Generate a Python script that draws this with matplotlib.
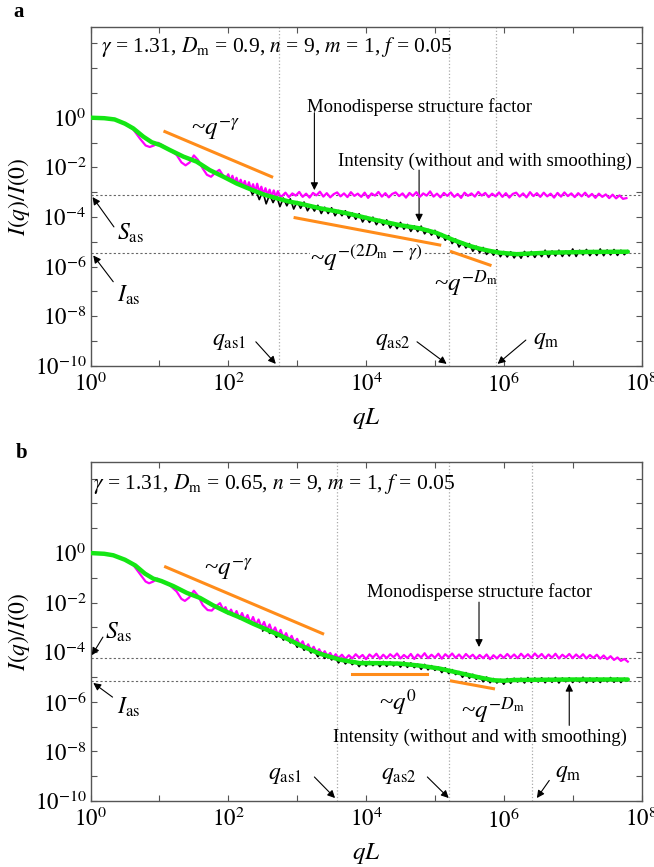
import numpy as np
import matplotlib
matplotlib.use("Agg")
import matplotlib.pyplot as plt
from matplotlib.ticker import FixedLocator, FuncFormatter

plt.rcParams["font.family"] = ["Liberation Serif", "DejaVu Serif"]
plt.rcParams["mathtext.fontset"] = "stix"

# ---------------------------------------------------------------- panel a
# all curves are given as log10(qL), log10(I/I0)
A_GREEN_LX = [0.0, 0.2, 0.35, 0.5, 0.62, 0.77, 0.89, 1.01, 1.15, 1.35, 1.54, 1.73,
              1.93, 2.12, 2.31, 2.51, 2.72, 2.90, 3.04, 3.33, 3.72, 4.10, 4.49,
              4.78, 5.02, 5.27, 5.51, 5.65, 5.80, 5.94, 6.19, 6.40, 6.62, 7.20, 7.80]
A_GREEN_LY = [0.0, -0.02, -0.07, -0.24, -0.43, -0.77, -0.99, -1.10, -1.30, -1.57,
              -1.77, -2.11, -2.38, -2.65, -2.87, -3.09, -3.26, -3.39, -3.46, -3.65,
              -3.85, -4.10, -4.33, -4.46, -4.64, -4.93, -5.17, -5.28, -5.37, -5.44,
              -5.50, -5.47, -5.44, -5.41, -5.40]

A_MAG_LX = [0.0, 0.2, 0.35, 0.5, 0.62, 0.72, 0.80, 0.86, 0.92, 0.98, 1.05, 1.15,
            1.25, 1.32, 1.38, 1.44, 1.50, 1.56, 1.63, 1.69, 1.75, 1.81, 1.87, 1.93,
            1.97, 2.00, 2.03, 2.06, 2.09, 2.12, 2.15, 2.18, 2.21, 2.24, 2.27, 2.30,
            2.33, 2.36, 2.39, 2.42, 2.45, 2.48, 2.51, 2.54, 2.57, 2.60, 2.63, 2.66,
            2.69, 2.72, 2.75]
A_MAG_LY = [0.0, -0.02, -0.07, -0.25, -0.47, -0.85, -1.12, -1.18, -1.12, -1.01,
            -1.12, -1.30, -1.50, -1.80, -1.92, -1.80, -1.52, -1.70, -2.05, -2.30,
            -2.38, -2.22, -2.10, -2.35, -2.42, -2.28, -2.55, -2.34, -2.62, -2.42,
            -2.70, -2.50, -2.75, -2.55, -2.86, -2.60, -2.90, -2.68, -2.98, -2.66,
            -3.02, -2.78, -3.10, -2.84, -3.12, -2.90, -3.18, -2.93, -3.20, -2.96,
            -3.15]
# monodisperse structure factor plateau, log10(qL) from 2.78 to 7.78
A_MAG_PLATEAU = [
    -3.16, -3.02, -3.20, -3.05, -3.14, -2.99, -3.19, -3.06, -3.22, -3.03,
    -3.13, -2.98, -3.18, -3.04, -3.21, -3.08, -3.01, -3.17, -3.05, -3.20,
    -3.00, -3.15, -3.06, -3.19, -3.02, -3.23, -3.05, -3.14, -2.99, -3.18,
    -3.04, -3.21, -3.07, -3.01, -3.16, -3.05, -3.22, -3.03, -3.15, -3.00,
    -3.19, -3.05, -3.14, -2.97, -3.18, -3.06, -3.21, -3.03, -3.15, -3.01,
    -3.19, -3.07, -3.23, -3.02, -3.15, -3.05, -3.18, -2.99, -3.14, -3.03,
    -3.20, -3.06, -3.17, -3.01, -3.19, -3.04, -3.22, -3.07, -3.02, -3.18,
    -3.05, -3.21, -3.00, -3.16, -3.04, -3.19, -3.02, -3.17, -3.06, -3.22,
    -3.03, -3.18, -3.01, -3.16, -3.05, -3.20, -3.04, -3.17, -3.02, -3.19,
    -3.07, -3.23, -3.06, -3.19, -3.09, -3.24, -3.10, -3.25, -3.13, -3.27,
    -3.24]
# raw intensity, log10(qL) from 2.30 to 7.80
A_BLACK = [
    -2.76, -3.09, -2.92, -3.30, -2.96, -3.47, -3.10, -3.42, -3.14, -3.58,
    -3.24, -3.55, -3.27, -3.68, -3.38, -3.65, -3.40, -3.75, -3.52, -3.76,
    -3.53, -3.86, -3.61, -3.86, -3.63, -3.95, -3.74, -3.95, -3.75, -4.05,
    -3.84, -4.09, -3.87, -4.20, -3.98, -4.22, -4.01, -4.31, -4.10, -4.33,
    -4.12, -4.44, -4.23, -4.47, -4.22, -4.49, -4.30, -4.58, -4.36, -4.59,
    -4.37, -4.68, -4.50, -4.73, -4.54, -4.86, -4.67, -4.94, -4.75, -5.07,
    -4.89, -5.21, -5.01, -5.25, -5.07, -5.38, -5.18, -5.43, -5.23, -5.51,
    -5.32, -5.54, -5.32, -5.60, -5.39, -5.61, -5.40, -5.65, -5.44, -5.66,
    -5.39, -5.60, -5.39, -5.63, -5.41, -5.60, -5.34, -5.63, -5.37, -5.57,
    -5.34, -5.59, -5.37, -5.57, -5.29, -5.59, -5.34, -5.53, -5.31, -5.56,
    -5.35, -5.55, -5.29, -5.56, -5.33, -5.53, -5.31, -5.55, -5.34, -5.52,
    -5.36]
A_SLOPES = [((1.08, -0.56), (2.63, -2.38)),
            ((2.97, -4.03), (5.07, -5.13)),
            ((5.24, -5.40), (5.80, -5.94))]
A_QMARKS = [2.73, 5.21, 5.89]       # q_as1, q_as2, q_m
A_S_AS, A_I_AS = -3.12, -5.45

# ---------------------------------------------------------------- panel b
B_GREEN_LX = [0.0, 0.2, 0.33, 0.5, 0.65, 0.79, 0.91, 1.03, 1.20, 1.40, 1.59, 1.78,
              1.98, 2.17, 2.36, 2.56, 2.75, 2.90, 3.04, 3.33, 3.62, 3.91, 4.20,
              4.49, 4.78, 5.07, 5.36, 5.65, 5.85, 6.00, 6.14, 7.00, 7.80]
B_GREEN_LY = [0.0, -0.03, -0.09, -0.27, -0.50, -0.83, -1.03, -1.13, -1.33, -1.61,
              -1.81, -2.11, -2.38, -2.60, -2.85, -3.09, -3.32, -3.52, -3.72, -4.06,
              -4.30, -4.44, -4.44, -4.46, -4.54, -4.66, -4.84, -5.02, -5.13, -5.15,
              -5.12, -5.10, -5.10]

B_MAG_LX = [0.0, 0.2, 0.33, 0.5, 0.62, 0.72, 0.80, 0.85, 0.91, 0.97, 1.05, 1.15,
            1.25, 1.32, 1.37, 1.43, 1.50, 1.56, 1.63, 1.70, 1.76, 1.82, 1.88, 1.93,
            1.96, 2.00, 2.04, 2.08, 2.12, 2.16, 2.20, 2.24, 2.28, 2.32, 2.36, 2.40,
            2.44, 2.48, 2.52, 2.56, 2.60, 2.64, 2.68, 2.72, 2.76, 2.80, 2.84, 2.88,
            2.92, 2.96, 3.00, 3.04, 3.08, 3.12, 3.16, 3.20, 3.24, 3.28, 3.32, 3.36,
            3.40, 3.44, 3.48, 3.52, 3.56]
B_MAG_LY = [0.0, -0.03, -0.09, -0.27, -0.48, -0.85, -1.15, -1.22, -1.15, -1.03,
            -1.15, -1.30, -1.55, -1.85, -1.93, -1.80, -1.52, -1.72, -2.10, -2.30,
            -2.32, -2.15, -2.02, -2.30, -2.18, -2.46, -2.28, -2.54, -2.34, -2.64,
            -2.42, -2.70, -2.50, -2.82, -2.58, -2.90, -2.68, -3.00, -2.78, -3.10,
            -2.88, -3.20, -3.00, -3.30, -3.10, -3.42, -3.23, -3.52, -3.34, -3.62,
            -3.46, -3.72, -3.56, -3.84, -3.68, -3.92, -3.78, -4.02, -3.88, -4.10,
            -3.96, -4.16, -4.03, -4.22, -4.08]
# plateau, log10(qL) from 3.60 to 7.80
B_MAG_PLATEAU = [
    -4.24, -4.10, -4.27, -4.12, -4.25, -4.08, -4.22, -4.11, -4.28, -4.09,
    -4.21, -4.06, -4.26, -4.10, -4.24, -4.08, -4.20, -4.05, -4.25, -4.11,
    -4.23, -4.07, -4.27, -4.09, -4.21, -4.04, -4.24, -4.10, -4.22, -4.06,
    -4.26, -4.08, -4.20, -4.05, -4.23, -4.09, -4.25, -4.07, -4.21, -4.10,
    -4.26, -4.11, -4.24, -4.09, -4.28, -4.12, -4.25, -4.10, -4.23, -4.07,
    -4.22, -4.09, -4.24, -4.06, -4.21, -4.08, -4.23, -4.05, -4.20, -4.07,
    -4.24, -4.09, -4.22, -4.06, -4.25, -4.10, -4.21, -4.07, -4.24, -4.09,
    -4.22, -4.08, -4.25, -4.11, -4.23, -4.10, -4.26, -4.13, -4.28, -4.16,
    -4.31, -4.21, -4.35, -4.27, -4.38]
# raw intensity, log10(qL) from 2.50 to 7.80
B_BLACK = [
    -3.14, -3.01, -3.24, -3.15, -3.40, -3.24, -3.51, -3.38, -3.62, -3.54,
    -3.80, -3.65, -3.92, -3.80, -4.03, -3.94, -4.18, -4.00, -4.25, -4.10,
    -4.31, -4.20, -4.43, -4.24, -4.47, -4.31, -4.50, -4.37, -4.58, -4.36,
    -4.56, -4.37, -4.54, -4.39, -4.58, -4.37, -4.57, -4.38, -4.55, -4.41,
    -4.60, -4.39, -4.61, -4.43, -4.62, -4.48, -4.69, -4.49, -4.71, -4.54,
    -4.73, -4.60, -4.82, -4.63, -4.86, -4.70, -4.90, -4.78, -5.01, -4.82,
    -5.05, -4.89, -5.09, -4.97, -5.19, -5.00, -5.23, -5.06, -5.24, -5.10,
    -5.29, -5.06, -5.25, -5.05, -5.20, -5.05, -5.24, -5.02, -5.22, -5.04,
    -5.20, -5.03, -5.23, -5.05, -5.21, -5.02, -5.24, -5.04, -5.19, -5.03,
    -5.22, -5.05, -5.20, -5.01, -5.23, -5.04, -5.21, -5.03, -5.22, -5.05,
    -5.19, -5.02, -5.21, -5.04, -5.22, -5.05, -5.15]
B_SLOPES = [((1.09, -0.56), (3.37, -3.25)),
            ((3.79, -4.86), (4.88, -4.86)),
            ((5.24, -5.16), (5.85, -5.47))]
B_QMARKS = [3.58, 5.21, 6.41]
B_S_AS, B_I_AS = -4.23, -5.16

GREEN = "#14e614"
MAGENTA = "#ff00ff"
ORANGE = "#ff8c1a"
FRAME = "#555555"


def p(lx, ly):
    return 10.0 ** lx, 10.0 ** ly


def arrow(ax, tail, tip):
    ax.annotate("", xy=p(*tip), xytext=p(*tail),
                arrowprops=dict(arrowstyle="-|>", color="k", lw=0.8,
                                mutation_scale=11, shrinkA=0, shrinkB=0))


def setup_axes(ax):
    ax.set_xscale("log")
    ax.set_yscale("log")
    ax.set_xlim(1, 1e8)
    ax.set_ylim(1e-10, 10 ** 3.66)
    ax.xaxis.set_major_locator(FixedLocator(10.0 ** np.arange(0, 9)))
    ax.yaxis.set_major_locator(FixedLocator(10.0 ** np.arange(-10, 4)))
    ax.xaxis.set_minor_locator(FixedLocator([]))
    ax.yaxis.set_minor_locator(FixedLocator([]))

    def fmt_x(v, pos):
        e = int(round(np.log10(v)))
        return r"$10^{%d}$" % e if e % 2 == 0 else ""

    def fmt_y(v, pos):
        e = int(round(np.log10(v)))
        return r"$10^{%d}$" % e if (e % 2 == 0 and e <= 0) else ""

    ax.xaxis.set_major_formatter(FuncFormatter(fmt_x))
    ax.yaxis.set_major_formatter(FuncFormatter(fmt_y))
    ax.tick_params(which="both", direction="in", top=True, right=True,
                   length=4, width=0.8, color=FRAME, labelsize=16.5, pad=3)
    ax.tick_params(axis="x", pad=5)
    for s in ax.spines.values():
        s.set_color(FRAME)
        s.set_linewidth(1.0)
    ax.set_xlabel(r"$qL$", fontsize=18, labelpad=6)
    ax.set_ylabel(r"$I(q)/I(\mathit{0})$", fontsize=17, labelpad=2)


def draw_panel(ax, green_lx, green_ly, mag_lx, mag_ly, mag_plateau, plat_range,
               black, black_range, slopes, qmarks, s_as, i_as):
    setup_axes(ax)
    for lx in qmarks:
        ax.axvline(10 ** lx, color="#aaaaaa", ls=":", lw=0.9, zorder=1)
    for ly in (s_as, i_as):
        ax.axhline(10 ** ly, color="#666666", ls=(0, (2, 2)), lw=0.8, zorder=1)

    bx = np.linspace(black_range[0], black_range[1], len(black))
    ax.plot(10 ** bx, 10.0 ** np.array(black), color="k", lw=1.2, zorder=3)

    px = np.linspace(plat_range[0], plat_range[1], len(mag_plateau))
    mx = np.concatenate([mag_lx, px])
    my = np.concatenate([mag_ly, mag_plateau])
    ax.plot(10 ** mx, 10.0 ** my, color=MAGENTA, lw=1.6, zorder=4)

    ax.plot(10 ** np.array(green_lx), 10.0 ** np.array(green_ly),
            color=GREEN, lw=3.2, solid_capstyle="round", zorder=5)

    for (x0, y0), (x1, y1) in slopes:
        ax.plot([10 ** x0, 10 ** x1], [10 ** y0, 10 ** y1],
                color=ORANGE, lw=2.2, zorder=6)


fig = plt.figure(figsize=(6.54, 8.67), dpi=100)
ax_a = fig.add_axes([0.1384, 0.578, 0.8426, 0.391])
ax_b = fig.add_axes([0.1384, 0.0761, 0.8426, 0.3907])

draw_panel(ax_a, A_GREEN_LX, A_GREEN_LY, A_MAG_LX, A_MAG_LY, A_MAG_PLATEAU,
           (2.78, 7.78), A_BLACK, (2.30, 7.80), A_SLOPES, A_QMARKS, A_S_AS, A_I_AS)
draw_panel(ax_b, B_GREEN_LX, B_GREEN_LY, B_MAG_LX, B_MAG_LY, B_MAG_PLATEAU,
           (3.60, 7.80), B_BLACK, (2.50, 7.80), B_SLOPES, B_QMARKS, B_S_AS, B_I_AS)

ann = dict(fontsize=13.5)
pw = dict(fontsize=18)
qm = dict(fontsize=17)
par = dict(fontsize=15.5)

# panel a labels
ax_a.text(*p(0.15, 2.86), r"$\gamma$ = 1.31, $D_{\rm m}$ = 0.9, $n$ = 9, $m$ = 1, $f$ = 0.05",
          va="center", **par)
ax_a.text(*p(1.82, -0.5), r"~$q^{-\gamma}$", ha="center", va="center", **pw)
ax_a.text(*p(4.77, 0.44), "Monodisperse structure factor", ha="center", va="center", **ann)
arrow(ax_a, (3.25, 0.20), (3.25, -2.92))
ax_a.text(*p(5.72, -1.77), "Intensity (without and with smoothing)",
          ha="center", va="center", **ann)
arrow(ax_a, (4.77, -2.11), (4.77, -4.19))
ax_a.text(*p(0.39, -4.66), r"$S_{\rm as}$", va="center", **qm)
arrow(ax_a, (0.34, -4.40), (0.03, -3.20))
ax_a.text(*p(0.385, -7.15), r"$I_{\rm as}$", va="center", **qm)
arrow(ax_a, (0.33, -6.61), (0.04, -5.55))
ax_a.text(*p(3.19, -5.66), r"~$q^{-(2D_{\rm m}\,-\,\gamma)}$", va="center",
          bbox=dict(fc="white", ec="none", pad=0), zorder=2, **pw)
ax_a.text(*p(4.99, -6.67), r"~$q^{-D_{\rm m}}$", va="center", **pw)
ax_a.text(*p(1.76, -9.03), r"$q_{\rm as1}$", va="center", **qm)
arrow(ax_a, (2.40, -9.03), (2.69, -9.92))
ax_a.text(*p(4.13, -9.03), r"$q_{\rm as2}$", va="center", **qm)
arrow(ax_a, (4.74, -9.03), (5.17, -9.92))
ax_a.text(*p(6.42, -8.96), r"$q_{\rm m}$", va="center", **qm)
arrow(ax_a, (6.32, -8.96), (5.91, -9.92))

# panel b labels
ax_b.text(*p(0.03, 2.80), r"$\gamma$ = 1.31, $D_{\rm m}$ = 0.65, $n$ = 9, $m$ = 1, $f$ = 0.05",
          va="center", **par)
ax_b.text(*p(2.0, -0.70), r"~$q^{-\gamma}$", ha="center", va="center", **pw)
ax_b.text(*p(5.64, -1.57), "Monodisperse structure factor", ha="center", va="center", **ann)
arrow(ax_b, (5.64, -1.98), (5.64, -3.79))
ax_b.text(*p(0.21, -3.19), r"$S_{\rm as}$", va="center", **qm)
arrow(ax_b, (0.18, -3.39), (0.02, -4.12))
ax_b.text(*p(0.39, -6.21), r"$I_{\rm as}$", va="center", **qm)
arrow(ax_b, (0.32, -5.81), (0.04, -5.24))
ax_b.text(*p(4.19, -6.01), r"~$q^{0}$", va="center", **pw)
ax_b.text(*p(5.38, -6.34), r"~$q^{-D_{\rm m}}$", va="center", **pw)
ax_b.text(*p(5.65, -7.42), "Intensity (without and with smoothing)",
          ha="center", va="center", **ann)
arrow(ax_b, (6.95, -6.95), (6.95, -5.27))
ax_b.text(*p(2.58, -8.96), r"$q_{\rm as1}$", va="center", **qm)
arrow(ax_b, (3.25, -9.03), (3.55, -9.88))
ax_b.text(*p(4.22, -8.96), r"$q_{\rm as2}$", va="center", **qm)
arrow(ax_b, (4.89, -9.03), (5.20, -9.88))
ax_b.text(*p(6.75, -8.90), r"$q_{\rm m}$", va="center", **qm)
arrow(ax_b, (6.66, -9.17), (6.48, -9.88))

fig.text(0.021, 0.986, "a", fontsize=15, fontweight="bold", va="center")
fig.text(0.024, 0.477, "b", fontsize=15, fontweight="bold", va="center")

fig.savefig("out.png", dpi=100)
